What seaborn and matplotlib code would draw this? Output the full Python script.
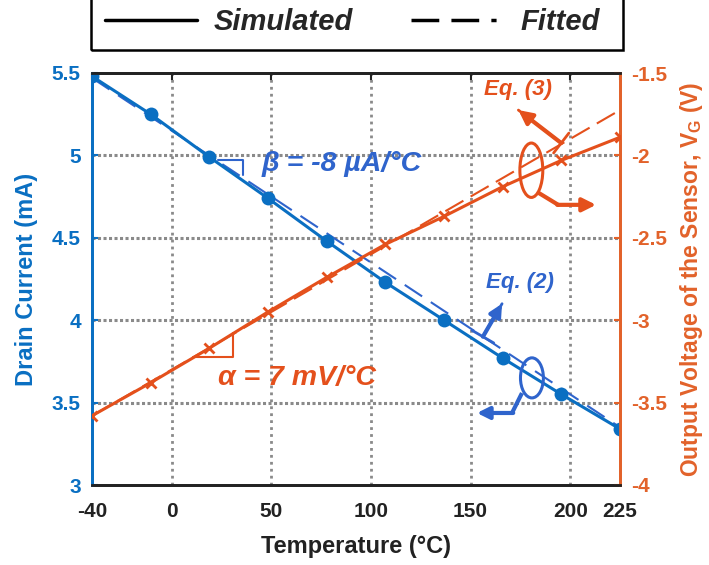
import numpy as np
import pandas as pd
import matplotlib
matplotlib.use("Agg")
import matplotlib.pyplot as plt
from matplotlib.lines import Line2D
from matplotlib.patches import Ellipse, Rectangle
import seaborn as sns

# data
temp = [-40, -10.6, 18.9, 48.3, 77.8, 107.2, 136.7, 166.1, 195.6, 225]
current_sim = [5.48, 5.25, 4.99, 4.74, 4.48, 4.23, 4.00, 3.77, 3.55, 3.34]
voltage_sim = [-3.58, -3.38, -3.17, -2.95, -2.74, -2.54, -2.37, -2.19, -2.03, -1.89]
fit_temp = [-40, 225]
current_fit = [5.47, 3.35]
voltage_fit = [-3.58, -1.725]
xticks = [-40, 0, 50, 100, 150, 200, 225]
yticks_left = [3, 3.5, 4, 4.5, 5, 5.5]
yticks_right = [-4, -3.5, -3, -2.5, -2, -1.5]

BLUE = "#0A6FC2"
BLUE_TXT = "#2F64CC"
ORANGE = "#E4501C"
ORANGE_AX = "#E2622A"
GRID = "#8A8A8A"

sns.set_style("white")
plt.rcParams["font.family"] = ["Liberation Sans", "DejaVu Sans"]
plt.rcParams["font.weight"] = "bold"
plt.rcParams["mathtext.fontset"] = "custom"
plt.rcParams["mathtext.rm"] = "Liberation Sans:bold"
plt.rcParams["mathtext.bf"] = "Liberation Sans:bold"

df = pd.DataFrame({"T": temp, "I": current_sim, "V": voltage_sim})
fit = pd.DataFrame({"T": fit_temp, "I": current_fit, "V": voltage_fit})

fig = plt.figure(figsize=(7.09, 5.65), dpi=100)
ax = fig.add_axes([92 / 709, 80 / 565, 528 / 709, 412 / 565])
ax2 = ax.twinx()

# grid
for x in [0, 50, 100, 150, 200]:
    ax.axvline(x, color=GRID, lw=2, ls=(0, (1, 1.5)), zorder=0)
for y in [3.5, 4, 4.5, 5]:
    ax.axhline(y, color=GRID, lw=2.2, ls=(0, (1, 0.8)), zorder=0)

# drain current (left)
sns.lineplot(data=fit, x="T", y="I", ax=ax, color=BLUE_TXT, lw=1.5,
             linestyle=(0, (10, 5)), zorder=3)
sns.lineplot(data=df, x="T", y="I", ax=ax, color=BLUE, lw=2.2,
             marker="o", markersize=10, markeredgewidth=0, markeredgecolor=BLUE, zorder=4)

# output voltage (right)
sns.lineplot(data=fit, x="T", y="V", ax=ax2, color=ORANGE, lw=1.5,
             linestyle=(0, (10, 4)), zorder=3)
sns.lineplot(data=df, x="T", y="V", ax=ax2, color=ORANGE, lw=2.2,
             marker="x", markersize=7, markeredgewidth=2, markeredgecolor=ORANGE, zorder=4)

ax.set_xlim(-40, 225)
ax.set_ylim(3, 5.5)
ax2.set_ylim(-4, -1.5)
ax.set_xticks(xticks)
ax.set_xticklabels([str(t) for t in xticks])
ax.set_yticks(yticks_left)
ax.set_yticklabels(["3", "3.5", "4", "4.5", "5", "5.5"])
ax2.set_yticks(yticks_right)
ax2.set_yticklabels(["-4", "-3.5", "-3", "-2.5", "-2", "-1.5"])

ax.tick_params(axis="x", direction="in", top=True, length=5, width=1.5,
               labelsize=15, colors="#222222", pad=12)
ax.tick_params(axis="y", direction="in", length=4, width=1.5,
               labelsize=15, colors=BLUE, pad=8)
ax2.tick_params(axis="y", direction="in", length=4, width=1.5,
                labelsize=15, colors=ORANGE_AX, pad=8)
for lab in ax.get_xticklabels() + ax.get_yticklabels() + ax2.get_yticklabels():
    lab.set_fontweight("bold")

for a in (ax, ax2):
    a.spines["top"].set_color("#222222")
    a.spines["bottom"].set_color("#222222")
    a.spines["left"].set_color(BLUE)
    a.spines["right"].set_color(ORANGE_AX)
    for s in a.spines.values():
        s.set_linewidth(2)
    a.set_xlabel("")

ax.set_xlabel("Temperature (°C)", fontsize=17, fontweight="bold", color="#222222", labelpad=10)
ax.set_ylabel("Drain Current (mA)", fontsize=17, fontweight="bold", color=BLUE, labelpad=10)
ax2.set_ylabel(r"Output Voltage of the Sensor, V$_\mathregular{G}$ (V)", fontsize=16.5,
               fontweight="bold", color=ORANGE_AX, labelpad=8)

# slope annotations
ax.plot([23, 36, 36], [4.975, 4.975, 4.88], color=BLUE_TXT, lw=1.5, zorder=5)
ax.text(45, 4.95, "β = -8 µA/°C", color=BLUE_TXT, fontsize=20.5, fontweight="bold",
        style="italic", ha="left", va="center")
ax2.plot([10.5, 31, 31], [-3.225, -3.225, -3.075], color=ORANGE, lw=1.5, zorder=5)
ax2.text(23, -3.35, "α = 7 mV/°C", color=ORANGE, fontsize=20.5, fontweight="bold",
         style="italic", ha="left", va="center")

# Eq. (2) markers (blue)
ax.text(175, 4.23, "Eq. (2)", color=BLUE_TXT, fontsize=16, fontweight="bold",
        style="italic", ha="center", va="center")
ax.annotate("", xy=(165.8, 4.10), xytext=(156.2, 3.90),
            arrowprops=dict(arrowstyle="-|>", color=BLUE_TXT, lw=3, mutation_scale=18,
                            shrinkA=0, shrinkB=0))
ax.annotate("", xy=(165.8, 4.10), xytext=(156.2, 3.90),
            arrowprops=dict(arrowstyle="]-, widthA=0.5, lengthA=0", color=BLUE_TXT, lw=2,
                            mutation_scale=18, shrinkA=0, shrinkB=0))
ax.add_patch(Ellipse((180.8, 3.65), 11.5, 0.243, fill=False, ec=BLUE_TXT, lw=2.2, zorder=6))
ax.plot([175.8, 170.8], [3.558, 3.437], color=BLUE_TXT, lw=3, zorder=6,
        solid_capstyle="butt")
ax.annotate("", xy=(153.2, 3.437), xytext=(171.4, 3.437),
            arrowprops=dict(arrowstyle="-|>", color=BLUE_TXT, lw=3, mutation_scale=18,
                            shrinkA=0, shrinkB=0))

# Eq. (3) markers (orange)
ax2.text(174, -1.60, "Eq. (3)", color=ORANGE, fontsize=16, fontweight="bold",
         style="italic", ha="center", va="center")
ax2.annotate("", xy=(174, -1.725), xytext=(195.5, -1.925),
             arrowprops=dict(arrowstyle="-|>", color=ORANGE, lw=3, mutation_scale=20,
                             shrinkA=0, shrinkB=0))
ax2.annotate("", xy=(174, -1.725), xytext=(195.5, -1.925),
             arrowprops=dict(arrowstyle="]-, widthA=0.5, lengthA=0", color=ORANGE, lw=2,
                             mutation_scale=18, shrinkA=0, shrinkB=0))
ax2.add_patch(Ellipse((180.5, -2.09), 11.5, 0.33, fill=False, ec=ORANGE, lw=2.2, zorder=6))
ax2.plot([184.5, 194], [-2.23, -2.30], color=ORANGE, lw=3, zorder=6)
ax2.annotate("", xy=(213, -2.30), xytext=(193.5, -2.30),
             arrowprops=dict(arrowstyle="-|>", color=ORANGE, lw=3, mutation_scale=20,
                             shrinkA=0, shrinkB=0))

# legend box on top
fig.add_artist(Rectangle((91 / 709, 1 - 50 / 565), 532 / 709, 0.2, transform=fig.transFigure,
                         fill=False, ec="black", lw=1.8))
handles = [Line2D([], [], color="black", lw=2.5),
           Line2D([], [], color="black", lw=2.5, linestyle=(0, (8, 3.5, 8, 3.5, 1.5, 10)))]
leg = fig.legend(handles, ["Simulated", "Fitted"], loc="center left",
                 bbox_to_anchor=(105 / 709, 1 - 22 / 565), ncol=2, frameon=False,
                 handlelength=3.15, handletextpad=0.58, columnspacing=2.0,
                 borderpad=0, borderaxespad=0,
                 prop=dict(size=21, weight="bold", style="italic"))

fig.savefig("out.png", dpi=100)
